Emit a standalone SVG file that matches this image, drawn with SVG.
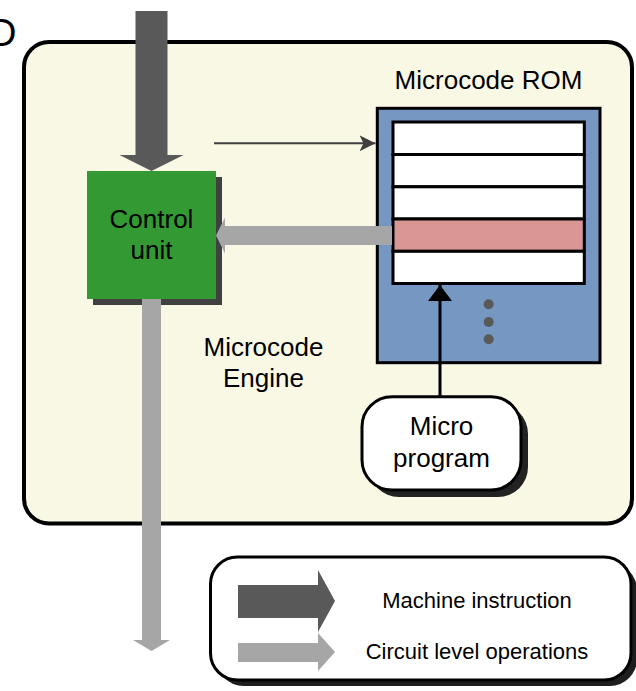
<svg xmlns="http://www.w3.org/2000/svg" width="636" height="691" viewBox="0 0 636 691">
  <defs>
    <style>
      text { font-family: "Liberation Sans", Arial, sans-serif; fill: #000; text-anchor: middle; }
      .t26 { font-size: 26px; }
      .t22 { font-size: 22px; }
      .dark { fill: #595959; }
      .light { fill: #a6a6a6; }
      .row { fill: #ffffff; stroke: #000; stroke-width: 3; }
    </style>
    <marker id="thinHead" viewBox="0 0 16 16" refX="16" refY="8" markerWidth="16" markerHeight="16" markerUnits="userSpaceOnUse" orient="auto">
      <path d="M0,0 L16,8 L0,16 L4,8 Z" fill="#404040"/>
    </marker>
    <marker id="blackHead" viewBox="0 0 16 24" refX="16" refY="12" markerWidth="16" markerHeight="24" markerUnits="userSpaceOnUse" orient="auto">
      <path d="M0,0 L16,12 L0,24 Z" fill="#000"/>
    </marker>
  </defs>

  <!-- clipped heading letter at the top-left edge -->
  <text x="-11" y="46" style="font-size:38px;text-anchor:start">D</text>

  <!-- microcode engine enclosure -->
  <g id="engine">
    <rect x="24" y="42" width="608" height="481.5" rx="25" fill="#f9f8e5" stroke="#000" stroke-width="4"/>
    <text class="t26" x="263.5" y="356">Microcode</text>
    <text class="t26" x="263.5" y="387">Engine</text>
  </g>

  <!-- control unit -->
  <g id="control-unit">
    <rect x="93" y="177" width="129" height="128" fill="#404040"/>
    <rect x="87" y="171" width="129" height="128" fill="#339933"/>
    <text class="t26" x="151.5" y="228">Control</text>
    <text class="t26" x="151.5" y="259">unit</text>
  </g>

  <!-- microcode ROM -->
  <g id="rom">
    <text class="t26" x="488.5" y="89">Microcode ROM</text>
    <rect x="377.3" y="108.3" width="222.7" height="254.4" fill="#7597c2" stroke="#000" stroke-width="3"/>
    <rect class="row" x="393" y="122" width="191.3" height="32.5"/>
    <rect class="row" x="393" y="154.5" width="191.3" height="32.3"/>
    <rect class="row" x="393" y="186.8" width="191.3" height="32.2"/>
    <rect class="row" x="393" y="219" width="191.3" height="32.3" style="fill:#d99694"/>
    <rect class="row" x="393" y="251.3" width="191.3" height="32.2"/>
    <circle cx="488.7" cy="304.3" r="5" fill="#595959"/>
    <circle cx="488.7" cy="322" r="5" fill="#595959"/>
    <circle cx="488.7" cy="339.3" r="5" fill="#595959"/>
  </g>

  <!-- micro program -->
  <g id="micro-program">
    <rect x="369" y="403.7" width="159" height="93.3" rx="30" fill="#222"/>
    <rect x="362" y="396.7" width="159" height="93.3" rx="30" fill="#fff" stroke="#000" stroke-width="3"/>
    <text class="t26" x="441.5" y="435">Micro</text>
    <text class="t26" x="441.5" y="466.5">program</text>
  </g>

  <!-- connectors -->
  <g id="connectors">
    <polygon class="dark" points="135.5,11 167.5,11 167.5,155 183.5,155 151.5,171 119.5,155 135.5,155"/>
    <polygon class="light" points="142,299 161,299 161,640 170,640 151.5,651 133,640 142,640"/>
    <polygon class="light" points="392,226 392,245 225,245 225,253.5 216,235.5 225,217.5 225,226"/>
    <line x1="214" y1="143.3" x2="375.5" y2="143.3" stroke="#404040" stroke-width="2" marker-end="url(#thinHead)"/>
    <line x1="440" y1="396" x2="440" y2="285" stroke="#000" stroke-width="3" marker-end="url(#blackHead)"/>
  </g>

  <!-- legend -->
  <g id="legend">
    <rect x="216.5" y="563" width="420.5" height="123" rx="27" fill="#1e1e1e"/>
    <rect x="210.5" y="557" width="420.5" height="123" rx="27" fill="#fff" stroke="#000" stroke-width="3"/>
    <polygon class="dark" points="238,585 318,585 318,570 335,601 318,632 318,618 238,618"/>
    <polygon class="light" points="238,643 318,643 318,633 335,652 318,671 318,662 238,662"/>
    <text class="t22" x="477" y="608">Machine instruction</text>
    <text class="t22" x="477" y="659">Circuit level operations</text>
  </g>
</svg>
